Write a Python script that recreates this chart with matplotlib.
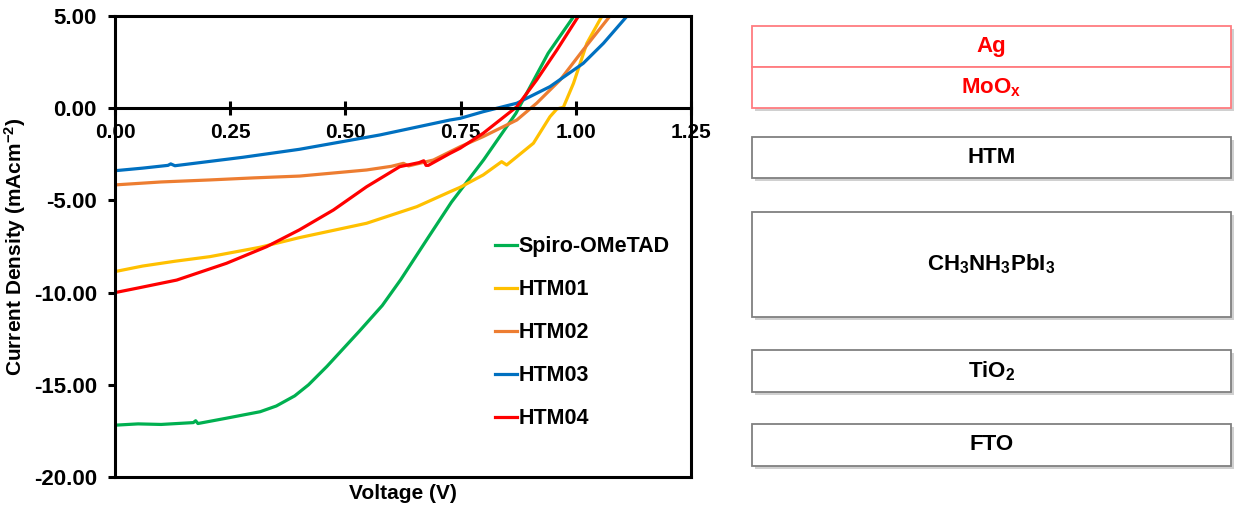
import matplotlib.pyplot as plt
from matplotlib.lines import Line2D
from matplotlib.patches import Rectangle

plt.rcParams["font.family"] = ["Liberation Sans", "DejaVu Sans"]
plt.rcParams["font.weight"] = "bold"
plt.rcParams["axes.labelweight"] = "bold"
plt.rcParams["font.size"] = 15
plt.rcParams["axes.unicode_minus"] = False
plt.rcParams["mathtext.default"] = "regular"

# J-V curves: voltage (V) and current density (mA/cm2)
spiro_v = [0, 0.05, 0.10, 0.17, 0.175, 0.18, 0.24, 0.315, 0.35, 0.39, 0.42,
           0.46, 0.53, 0.58, 0.62, 0.68, 0.73, 0.80, 0.87, 0.94, 0.995]
spiro_j = [-17.19, -17.12, -17.15, -17.05, -16.95, -17.1, -16.82, -16.46, -16.15,
           -15.6, -15.0, -14.0, -12.1, -10.7, -9.3, -7.0, -5.1, -2.8, -0.28, 2.98,
           4.96]

htm01_v = [0, 0.06, 0.13, 0.206, 0.315, 0.40, 0.546, 0.655, 0.727, 0.749, 0.799,
           0.839, 0.85, 0.908, 0.944, 0.959, 0.973, 0.995, 1.024, 1.056]
htm01_j = [-8.86, -8.56, -8.3, -8.05, -7.54, -7.02, -6.24, -5.34, -4.53, -4.29,
           -3.62, -2.9, -3.08, -1.9, -0.46, -0.04, 0.05, 1.35, 3.52, 4.96]

htm02_v = [0, 0.10, 0.206, 0.30, 0.401, 0.546, 0.60, 0.626, 0.637, 0.691, 0.749,
           0.799, 0.872, 0.915, 0.966, 1.016, 1.073]
htm02_j = [-4.16, -4.0, -3.89, -3.78, -3.68, -3.35, -3.15, -2.99, -3.13, -2.81,
           -2.09, -1.54, -0.64, 0.27, 1.53, 3.16, 4.96]

htm03_v = [0, 0.06, 0.115, 0.121, 0.13, 0.278, 0.40, 0.575, 0.727, 0.749, 0.799,
           0.872, 0.944, 1.016, 1.06, 1.11]
htm03_j = [-3.39, -3.25, -3.1, -3.02, -3.12, -2.66, -2.23, -1.45, -0.64, -0.55,
           -0.19, 0.27, 1.17, 2.43, 3.52, 4.96]

htm04_v = [0, 0.05, 0.134, 0.242, 0.329, 0.40, 0.474, 0.546, 0.618, 0.66, 0.67,
           0.675, 0.68, 0.727, 0.749, 0.799, 0.872, 0.915, 0.959, 1.005]
htm04_j = [-10.0, -9.75, -9.32, -8.41, -7.51, -6.6, -5.52, -4.26, -3.17, -2.95,
           -2.85, -3.1, -3.1, -2.45, -2.17, -1.36, 0.08, 1.53, 3.16, 4.96]

series = [
    ("Spiro-OMeTAD", spiro_v, spiro_j, "#00B050"),
    ("HTM01", htm01_v, htm01_j, "#FFC000"),
    ("HTM02", htm02_v, htm02_j, "#ED7D31"),
    ("HTM03", htm03_v, htm03_j, "#0070C0"),
    ("HTM04", htm04_v, htm04_j, "#FF0000"),
]

x_ticks = [0, 0.25, 0.5, 0.75, 1.0, 1.25]
y_ticks = [5, 0, -5, -10, -15, -20]

# device stack, top to bottom
layer_names = ["Ag", "MoO$_x$", "HTM", "CH$_3$NH$_3$PbI$_3$", "TiO$_2$", "FTO"]
layer_text_colors = ["#FF0000", "#FF0000", "black", "black", "black", "black"]
layer_edge_colors = ["#FF7C80", "#FF7C80", "#808080", "#808080", "#808080", "#808080"]

W, H = 1239, 508
fig = plt.figure(figsize=(W / 100, H / 100), dpi=100)
ax = fig.add_axes([115 / W, 1 - 477 / H, 576 / W, 461 / H])

for name, v, j, c in series:
    ax.plot(v, j, color=c, lw=2.3, label=name)

ax.set_xlim(0, 1.25)
ax.set_ylim(-20, 5)
ax.set_xticks(x_ticks)
ax.set_yticks(y_ticks)
ax.set_xticklabels([f"{t:.2f}" for t in x_ticks], fontsize=16)
ax.set_yticklabels([f"{t:.2f}" for t in y_ticks], fontsize=16)

for s in ax.spines.values():
    s.set_linewidth(2.2)
ax.spines["bottom"].set_position(("data", 0))
ax.add_line(Line2D([0, 1], [0, 0], transform=ax.transAxes, color="black",
                   lw=2.2, clip_on=False))
ax.tick_params(axis="x", direction="inout", length=10, width=2.2, pad=6)
ax.tick_params(axis="y", direction="out", length=5, width=2.2, pad=8)

ax.set_xlabel("Voltage (V)")
ax.xaxis.set_label_coords(0.5, -0.015)
ax.set_ylabel("Current Density (mAcm$^{-2}$)")
ax.yaxis.set_label_coords(-0.151, 0.5)

ax.legend(loc="upper left", bbox_to_anchor=(0.66, 0.522), frameon=False,
          fontsize=15.5, handlelength=1.0, handletextpad=0.1, labelspacing=1.02,
          borderpad=0, borderaxespad=0)

# right panel: layer stack drawn in pixel coordinates
ax2 = fig.add_axes([0, 0, 1, 1], zorder=-1)
ax2.set_xlim(0, W)
ax2.set_ylim(H, 0)
ax2.axis("off")
tops = [26, 67, 137, 212, 350, 424]
bottoms = [67, 108, 178, 317, 392, 466]
left, right = 752, 1231
for name, tc, ec, t, b in zip(layer_names, layer_text_colors, layer_edge_colors,
                              tops, bottoms):
    ax2.add_patch(Rectangle((left + 3, t + 3), right - left, b - t,
                            facecolor="#d0d0d0", edgecolor="none"))
    ax2.add_patch(Rectangle((left, t), right - left, b - t,
                            facecolor="white", edgecolor=ec, lw=1.3))
    ax2.text((left + right) / 2, (t + b) / 2, name, color=tc, fontsize=16,
             ha="center", va="center")

fig.savefig("out.png", dpi=100)
